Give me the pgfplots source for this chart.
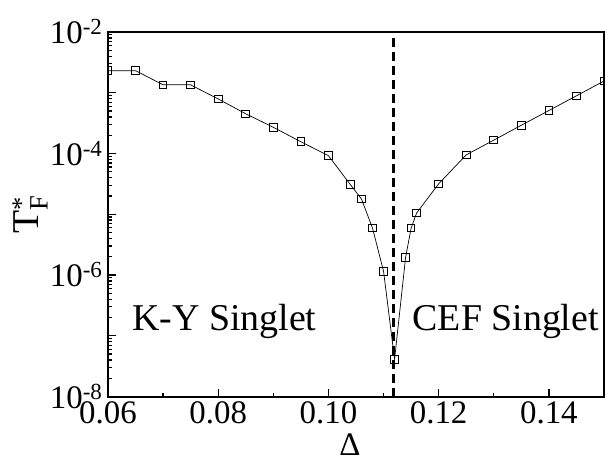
\documentclass[border=0pt]{standalone}
\usepackage{fontspec}
\setmainfont{Liberation Serif}
\usepackage{pgfplots}
\pgfplotsset{compat=1.18}

% Fermi-liquid scale T*_F versus Delta across the K-Y / CEF singlet transition
\pgfplotstableread{
x       T
0.060   2.31e-3
0.065   2.31e-3
0.070   1.35e-3
0.075   1.35e-3
0.080   7.9e-4
0.085   4.5e-4
0.090   2.7e-4
0.095   1.56e-4
0.100   9.2e-5
0.104   3.06e-5
0.106   1.78e-5
0.108   5.9e-6
0.110   1.15e-6
0.112   4.1e-8
0.114   1.95e-6
0.115   5.9e-6
0.116   1.05e-5
0.120   3.17e-5
0.125   9.5e-5
0.130   1.66e-4
0.135   2.92e-4
0.140   5.1e-4
0.145   8.9e-4
0.150   1.56e-3
}\tfdata

\begin{document}
\begin{tikzpicture}
\begin{semilogyaxis}[
  scale only axis,
  width=496bp, height=364.5bp,
  xmin=0.06, xmax=0.15,
  ymin=1e-8, ymax=1e-2,
  axis line style={line width=2bp},
  xtick={0.06,0.08,0.10,0.12,0.14},
  xticklabels={0.06,0.08,0.10,0.12,0.14},
  minor xtick={0.07,0.09,0.11,0.13},
  ytick={1e-8,1e-7,1e-6,1e-5,1e-4,1e-3,1e-2},
  yticklabels={10\textsuperscript{-8},,10\textsuperscript{-6},,10\textsuperscript{-4},,10\textsuperscript{-2}},
  xtick pos=left, ytick pos=left,
  tick align=inside,
  major tick length=8bp, minor tick length=4bp,
  every tick/.style={line width=1.3bp, black},
  tick label style={font=\fontsize{33}{36}\selectfont},
  xticklabel style={yshift=-2bp},
  yticklabel style={xshift=-2bp},
  xlabel={Δ},
  ylabel={T\rlap{\textsuperscript{*}}\textsubscript{F}},
  every axis x label/.style={at={(axis description cs:0.488,-0.163)}, anchor=base,
    inner sep=0pt, font=\fontsize{33}{36}\selectfont},
  every axis y label/.style={at={(axis description cs:-0.157,0.5)}, rotate=90, anchor=center,
    font=\fontsize{38}{42}\selectfont},
  clip marker paths=true,
]
\coordinate (ll) at (rel axis cs:0,0);
\coordinate (ur) at (rel axis cs:1,1);
% boundary between the two singlet regimes
\addplot[black, line width=2.2bp, dash pattern=on 9bp off 5bp] coordinates {(0.1118,1e-8) (0.1118,1e-2)};
\addplot[black, line width=0.7bp, mark=square, mark size=3.8bp,
  mark options={solid, line width=1bp, fill=white}] table[x=x, y=T] {\tfdata};
\node[anchor=base west, font=\fontsize{38}{42}\selectfont] at (axis cs:0.0638,1.2e-7) {K-Y Singlet};
\node[anchor=base east, font=\fontsize{38}{42}\selectfont] at (axis cs:0.1497,1.2e-7) {CEF Singlet};
\end{semilogyaxis}
\pgfresetboundingbox
\path ([shift={(-108bp,-67.5bp)}]ll) rectangle ([shift={(1bp,32bp)}]ur);
\end{tikzpicture}
\end{document}
